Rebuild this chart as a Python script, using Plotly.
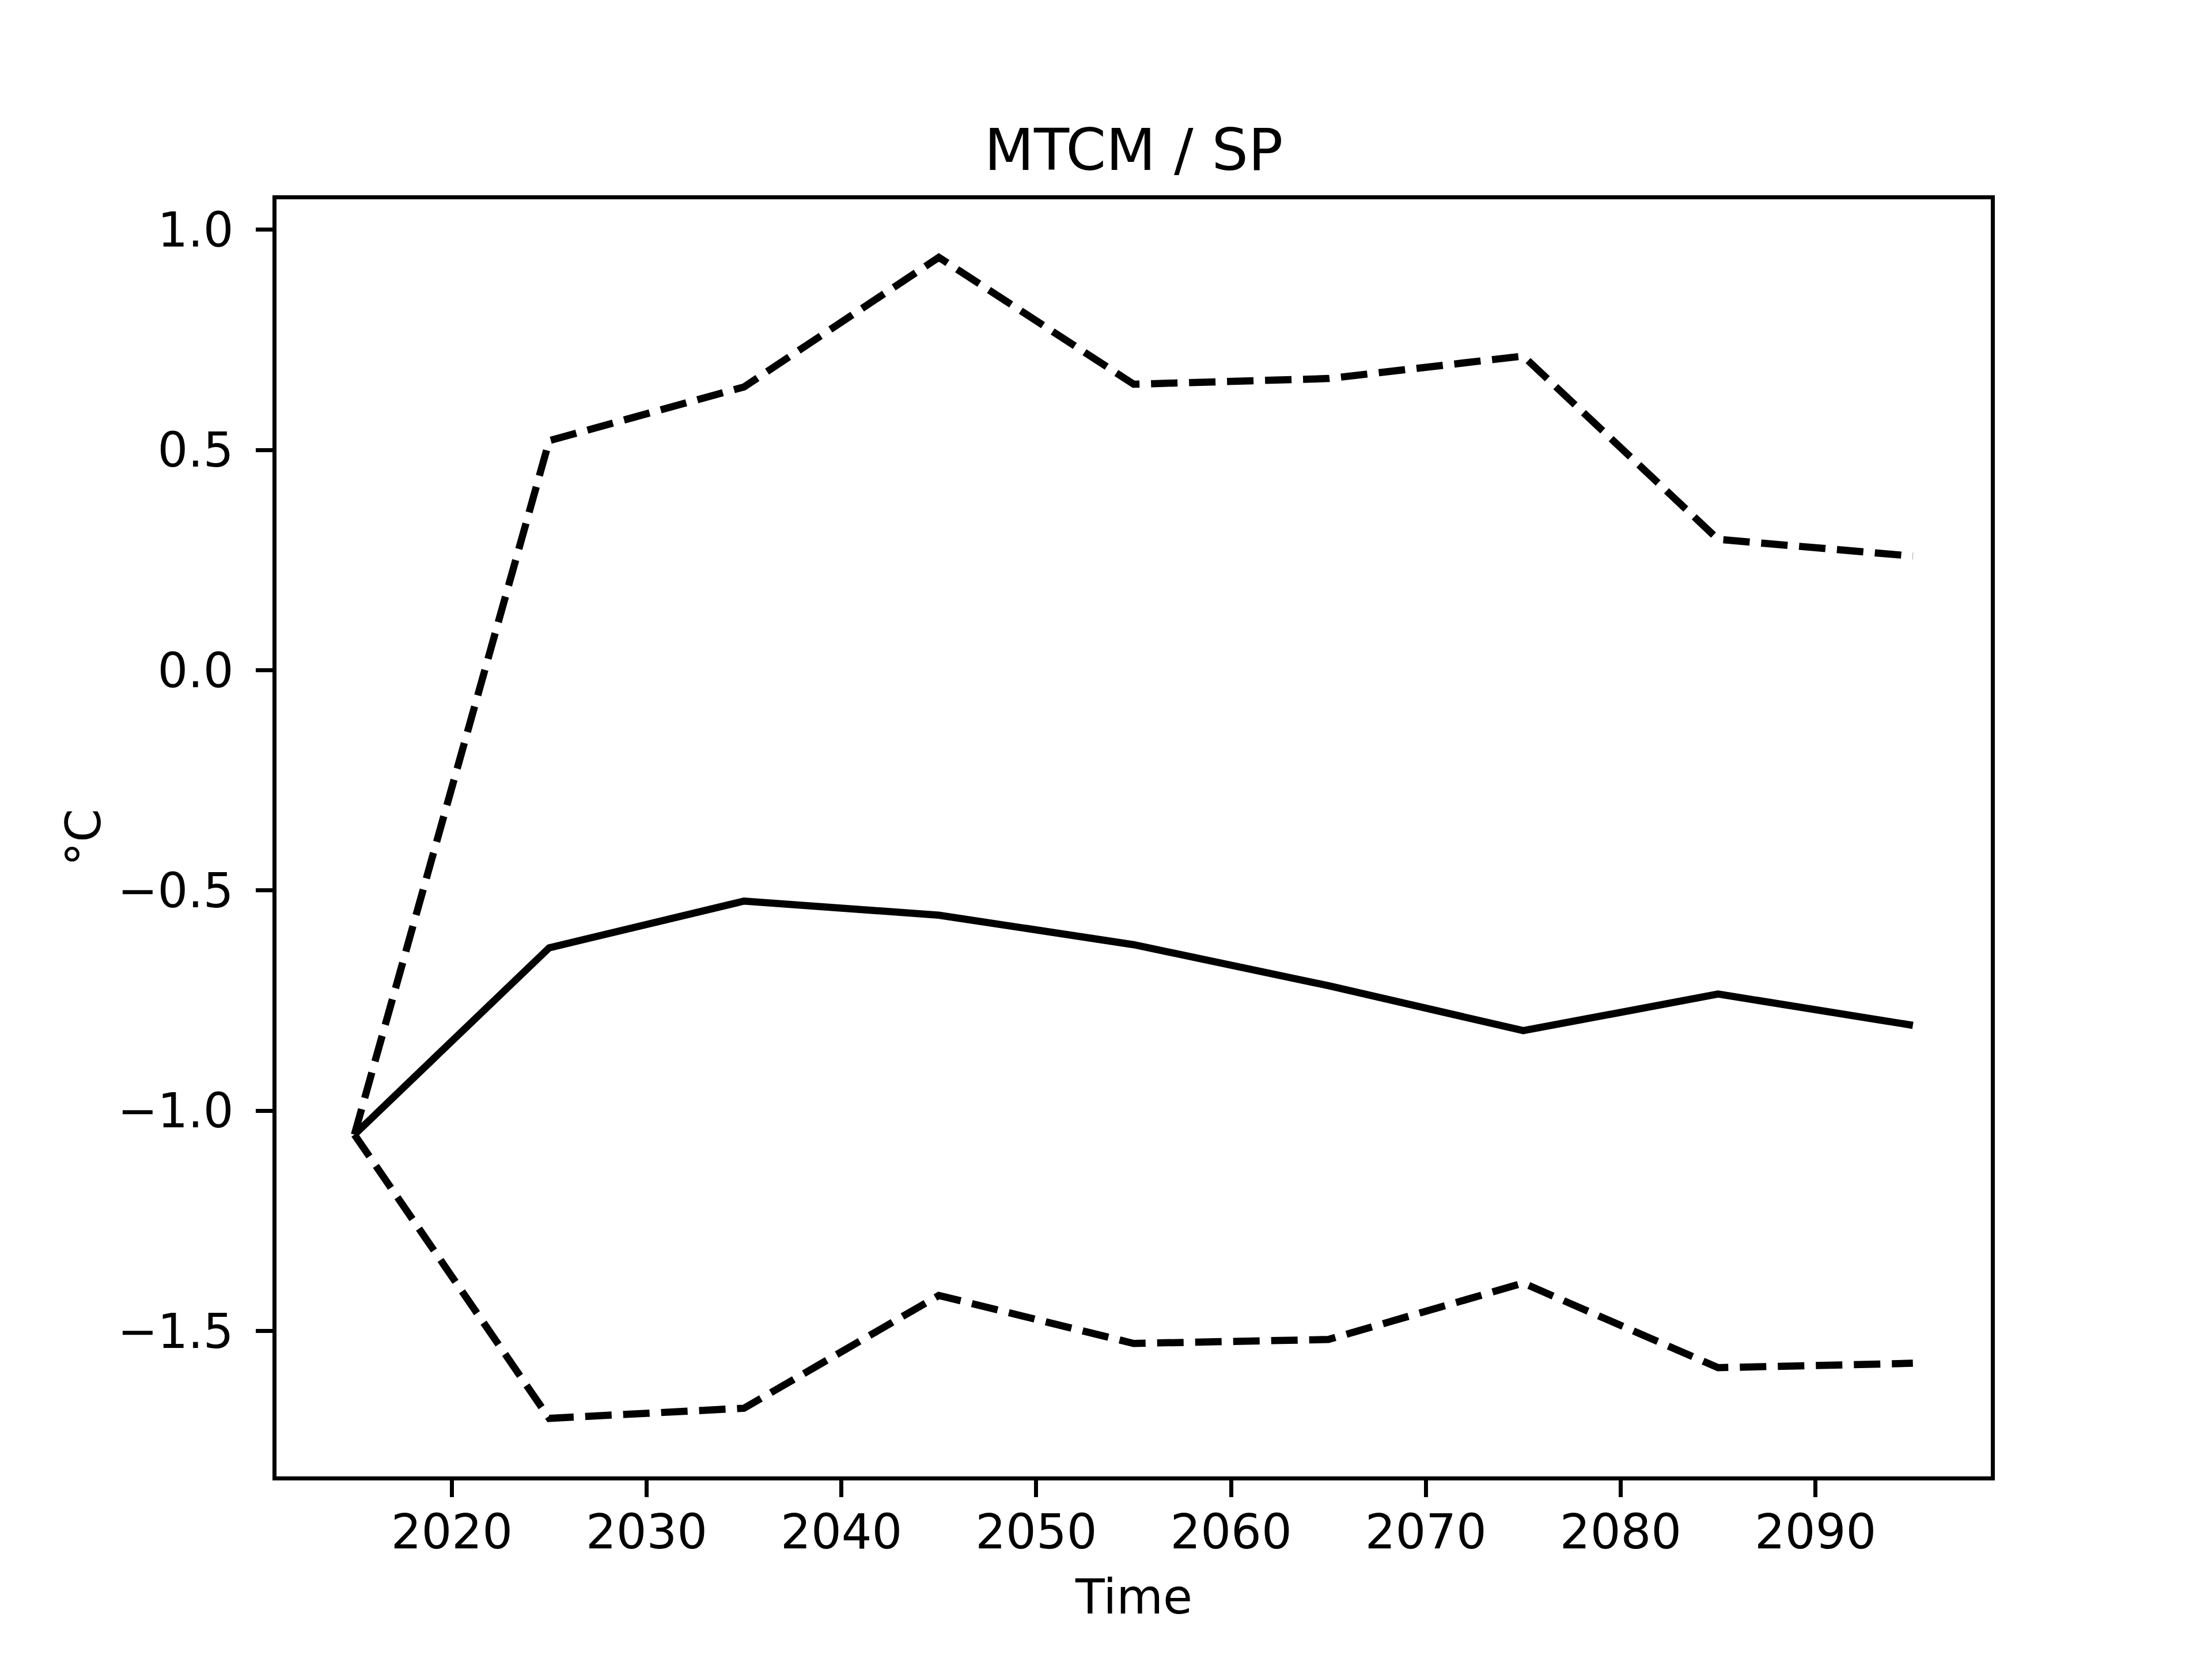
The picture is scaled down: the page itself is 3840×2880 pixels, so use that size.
import plotly.graph_objects as go

years = [2015, 2025, 2035, 2045, 2055, 2065, 2075, 2085, 2095]
mean_vals = [-1.054, -0.630, -0.524, -0.556, -0.623, -0.716, -0.818, -0.735, -0.806]
upper_vals = [-1.054, 0.521, 0.643, 0.937, 0.649, 0.662, 0.713, 0.297, 0.259]
lower_vals = [-1.054, -1.698, -1.675, -1.419, -1.528, -1.519, -1.391, -1.583, -1.573]

x_ticks = [2020, 2030, 2040, 2050, 2060, 2070, 2080, 2090]
y_ticks = [-1.5, -1.0, -0.5, 0.0, 0.5, 1.0]

# page body has an 8px margin; compensate so the plot area lands at the target pixels
OFF = 8
W, H = 3840 - 2 * OFF, 2880 - 2 * OFF
PL, PT, PR, PB = 480, 346, 3456, 2563   # target plot-area box in page pixels
ML = PL - OFF
MT = PT - OFF
MR = W - (PR - OFF)
MB = H - (PB - OFF)

LW = 12.5
DASH = "46px,20px"
FONT = "DejaVu Sans"

fig = go.Figure()
fig.add_trace(go.Scatter(x=years, y=mean_vals, mode="lines",
                         line=dict(color="black", width=LW), showlegend=False))
fig.add_trace(go.Scatter(x=years, y=upper_vals, mode="lines",
                         line=dict(color="black", width=LW, dash=DASH), showlegend=False))
fig.add_trace(go.Scatter(x=years, y=lower_vals, mode="lines",
                         line=dict(color="black", width=LW, dash=DASH), showlegend=False))

dmin = min(lower_vals + mean_vals + upper_vals)
dmax = max(lower_vals + mean_vals + upper_vals)
pad_y = 0.05 * (dmax - dmin)
pad_x = 0.05 * (years[-1] - years[0])

axis_common = dict(
    showline=True, linecolor="black", linewidth=6.7, mirror=True,
    ticks="outside", ticklen=29, tickwidth=6.7, tickcolor="black",
    showgrid=False, zeroline=False,
    tickfont=dict(family=FONT, size=83, color="black"),
)

fig.update_xaxes(range=[years[0] - pad_x, years[-1] + pad_x],
                 tickvals=x_ticks, ticktext=[str(v) for v in x_ticks],
                 ticklabelstandoff=-10, **axis_common)
fig.update_yaxes(range=[dmin - pad_y, dmax + pad_y],
                 tickvals=y_ticks,
                 ticktext=[("\u2212" if v < 0 else "") + f"{abs(v):.1f}" for v in y_ticks],
                 ticklabelstandoff=22, **axis_common)

fig.update_layout(
    width=W, height=H,
    margin=dict(l=ML, r=MR, t=MT, b=MB, autoexpand=False),
    plot_bgcolor="white", paper_bgcolor="white",
    font=dict(family=FONT, color="black"),
    title=dict(text="MTCM / SP", x=((PL + PR) / 2 - OFF) / W, xanchor="center",
               y=1 - (260 - OFF) / H, yanchor="middle", yref="container",
               font=dict(family=FONT, size=100, color="black")),
    annotations=[
        dict(text="Time", xref="paper", yref="paper", x=0.5, y=0,
             yshift=-209, xanchor="center", yanchor="middle", showarrow=False,
             font=dict(family=FONT, size=83, color="black")),
        dict(text="°C", xref="paper", yref="paper", x=0, y=0.5,
             xshift=-335, xanchor="center", yanchor="middle", showarrow=False,
             textangle=-90, font=dict(family=FONT, size=83, color="black")),
    ],
)

fig.write_html("out.html")
